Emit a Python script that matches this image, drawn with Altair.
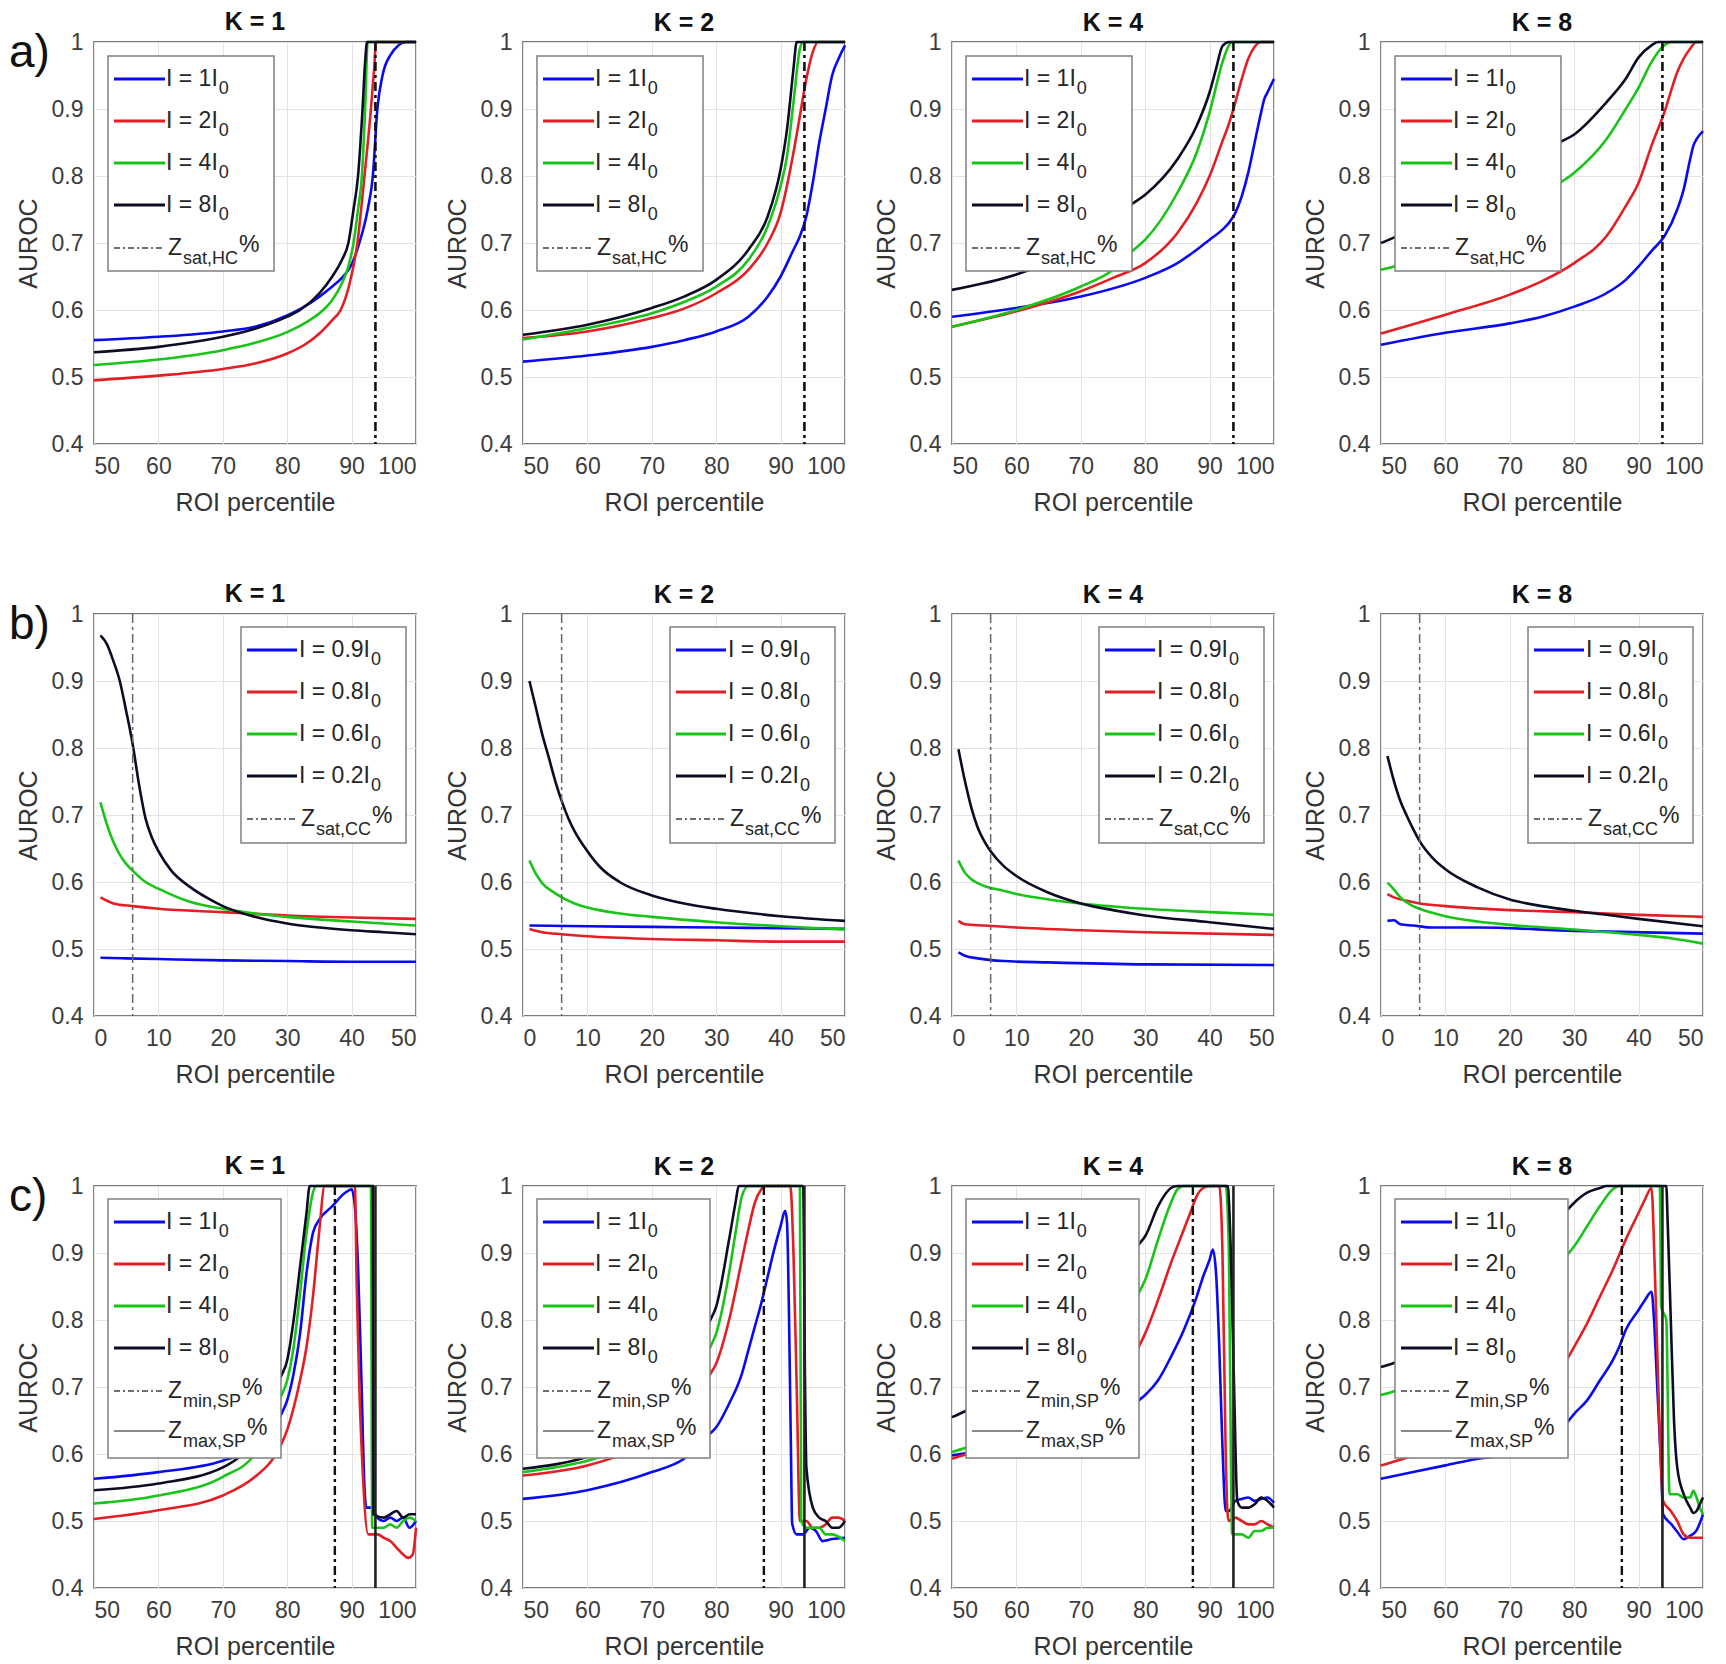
import altair as alt
import pandas as pd

# ---------------- data ----------------
Y_TICKS = [0.4, 0.5, 0.6, 0.7, 0.8, 0.9, 1.0]
X_TICKS_HI = [50, 60, 70, 80, 90, 100]
X_TICKS_LO = [0, 10, 20, 30, 40, 50]
K_TITLES = ["K = 1", "K = 2", "K = 4", "K = 8"]
ROW_TAGS = ["a)", "b)", "c)"]

ZSAT_HC = 93.7
ZSAT_CC = 6.0
ZMIN_SP = 87.4
ZMAX_SP = 93.7

# row a : I = 1I0, 2I0, 4I0, 8I0
A_K1_1 = [[50,.555],[60,.560],[70,.568],[75,.575],[80,.592],[83,.607],[85,.620],[87,.635],[88.5,.648],[90,.668],[91.2,.700],[92.5,.750],[93.3,.800],[94.0,.900],[94.8,.950],[96,.980],[98.5,1.0],[100,1.0]]
A_K1_2 = [[50,.495],[60,.502],[70,.512],[75,.520],[80,.535],[83,.550],[85,.565],[87,.585],[88.3,.600],[89.7,.640],[90.9,.700],[92,.800],[93,.900],[93.5,.960],[93.8,1.0],[100,1.0]]
A_K1_4 = [[50,.518],[60,.526],[70,.540],[75,.551],[80,.567],[83,.582],[85,.595],[87,.615],[88.5,.640],[89.5,.665],[90.3,.700],[91,.750],[91.6,.800],[92.1,.900],[92.5,1.0],[100,1.0]]
A_K1_8 = [[50,.537],[60,.545],[70,.560],[75,.572],[80,.590],[82,.600],[85,.625],[87,.650],[88.5,.675],[89.5,.700],[90.3,.750],[91,.800],[91.7,.900],[92.1,.970],[92.4,1.0],[100,1.0]]

A_K2_1 = [[50,.523],[60,.532],[70,.545],[75,.555],[80,.568],[85,.590],[88,.620],[90,.650],[92,.690],[93,.710],[94,.740],[95,.790],[96,.850],[97,.900],[98,.950],[99,.975],[100,.995]]
A_K2_2 = [[50,.558],[60,.568],[70,.588],[75,.602],[80,.625],[85,.660],[88,.700],[90,.745],[92,.835],[93,.890],[94,.945],[95,.985],[95.8,1.0],[100,1.0]]
A_K2_4 = [[50,.556],[60,.573],[70,.595],[75,.612],[80,.635],[85,.675],[88,.725],[90,.785],[91,.830],[92,.910],[93,.990],[93.5,1.0],[100,1.0]]
A_K2_8 = [[50,.563],[60,.578],[70,.603],[75,.620],[80,.645],[85,.690],[88,.740],[90,.810],[91,.870],[92,.960],[92.5,1.0],[100,1.0]]

A_K4_1 = [[50,.590],[60,.603],[70,.620],[80,.648],[85,.670],[88,.690],[90,.705],[92,.720],[93,.730],[94,.745],[95,.770],[96,.805],[97,.850],[98,.895],[98.5,.915],[99,.925],[100,.945]]
A_K4_2 = [[50,.575],[60,.598],[70,.628],[75,.648],[80,.670],[85,.715],[88,.760],[90,.800],[92,.852],[93,.878],[93.7,.900],[95,.945],[96,.975],[97,.993],[98,1.0],[100,1.0]]
A_K4_4 = [[50,.575],[60,.600],[70,.635],[75,.660],[78,.688],[80,.705],[85,.775],[88,.835],[90,.895],[92,.970],[93,.995],[93.5,1.0],[100,1.0]]
A_K4_8 = [[50,.630],[60,.653],[65,.671],[70,.697],[75,.731],[77.5,.755],[80,.772],[85,.825],[88,.875],[90,.925],[91,.960],[92,.994],[93,1.0],[100,1.0]]

A_K8_1 = [[50,.548],[60,.566],[70,.580],[75,.590],[80,.605],[85,.625],[88,.645],[90,.665],[92,.688],[94,.710],[96,.750],[97,.780],[98,.825],[98.5,.845],[99,.855],[100,.867]]
A_K8_2 = [[50,.565],[60,.593],[70,.623],[75,.643],[80,.670],[85,.710],[88,.755],[90,.790],[92,.845],[94,.895],[96,.955],[98,.990],[99,1.0],[100,1.0]]
A_K8_4 = [[50,.660],[52,.665],[60,.690],[70,.735],[75,.770],[77.4,.787],[80,.805],[85,.855],[88,.900],[90,.932],[92,.970],[94,.995],[95,1.0],[100,1.0]]
A_K8_8 = [[50,.700],[52,.708],[60,.745],[70,.800],[75,.828],[77.4,.848],[80,.862],[85,.910],[88,.945],[90,.977],[92,.995],[93,1.0],[100,1.0]]

# row b : I = 0.9I0, 0.8I0, 0.6I0, 0.2I0
B_K1_09 = [[1,.487],[5,.486],[10,.485],[20,.483],[30,.482],[40,.481],[50,.481]]
B_K1_08 = [[1,.577],[3,.568],[6,.564],[10,.560],[20,.555],[30,.550],[40,.547],[50,.545]]
B_K1_06 = [[1,.719],[2,.686],[3,.660],[4,.641],[5,.627],[6,.617],[8,.600],[10,.590],[15,.570],[20,.560],[25,.553],[30,.548],[40,.541],[50,.535]]
B_K1_02 = [[1,.968],[2,.955],[3,.930],[4,.900],[5,.855],[6,.806],[7,.745],[8,.695],[9,.666],[10,.646],[12,.617],[15,.592],[18,.574],[20,.564],[25,.548],[30,.538],[35,.532],[40,.528],[45,.525],[50,.522]]

B_K2_09 = [[1,.535],[10,.534],[20,.533],[30,.532],[40,.531],[50,.530]]
B_K2_08 = [[1,.530],[3,.525],[6,.522],[10,.519],[20,.515],[30,.513],[40,.511],[50,.511]]
B_K2_06 = [[1,.632],[2,.612],[3,.598],[5,.583],[8,.568],[10,.562],[15,.553],[20,.548],[30,.540],[40,.534],[50,.529]]
B_K2_02 = [[1,.900],[2,.860],[3,.820],[4,.786],[5,.751],[6,.721],[7,.696],[8,.676],[10,.646],[12,.622],[15,.600],[20,.580],[25,.568],[30,.560],[40,.549],[50,.542]]

B_K4_09 = [[1,.495],[2,.490],[4,.486],[8,.482],[15,.480],[30,.477],[50,.476]]
B_K4_08 = [[1,.542],[2,.537],[5,.535],[10,.532],[20,.528],[30,.525],[50,.521]]
B_K4_06 = [[1,.632],[2,.614],[3,.604],[5,.594],[8,.587],[10,.582],[15,.574],[20,.568],[30,.560],[40,.555],[50,.551]]
B_K4_02 = [[1,.798],[2,.751],[3,.711],[4,.681],[5,.661],[6,.646],[8,.624],[10,.609],[15,.584],[20,.568],[25,.558],[30,.550],[40,.540],[50,.530]]

B_K8_09 = [[1,.542],[2,.543],[3,.537],[5,.535],[8,.532],[15,.532],[30,.527],[50,.523]]
B_K8_08 = [[1,.582],[2,.577],[4,.572],[6,.568],[10,.564],[20,.558],[30,.555],[40,.551],[50,.548]]
B_K8_06 = [[1,.599],[2,.589],[3,.577],[5,.564],[8,.554],[10,.549],[15,.541],[20,.536],[30,.529],[40,.521],[45,.516],[50,.508]]
B_K8_02 = [[1,.788],[2,.751],[3,.721],[4,.699],[5,.679],[6,.661],[8,.636],[10,.619],[15,.592],[20,.574],[25,.564],[30,.557],[35,.551],[40,.545],[50,.534]]

# row c : I = 1I0, 2I0, 4I0, 8I0
C_K1_1 = [[50,.563],[60,.573],[70,.590],[75,.610],[78,.640],[79,.658],[80,.680],[81,.720],[82,.780],[83,.870],[84,.930],[85,.950],[87,.970],[89,.990],[90,.995],[90.5,.970],[91,.880],[91.5,.720],[92,.550],[92.3,.520],[93,.520],[94,.505],[95,.500],[96,.505],[97,.500],[98,.505],[99,.490],[100,.500]]
C_K1_2 = [[50,.503],[60,.516],[70,.538],[75,.566],[78,.596],[80,.636],[82,.710],[83,.760],[84,.835],[85,.935],[85.8,1.0],[90.5,1.0],[90.8,.850],[91.2,.700],[91.6,.600],[92.6,.480],[94,.480],[95,.475],[96,.470],[97,.460],[98,.450],[98.8,.445],[99.5,.450],[100,.490]]
C_K1_4 = [[50,.526],[60,.538],[70,.566],[75,.600],[79,.685],[80,.710],[81,.760],[82,.840],[83,.930],[84,.990],[84.5,1.0],[93,1.0],[93.2,.490],[94,.490],[95,.490],[96,.495],[97,.490],[98,.500],[99,.505],[100,.500]]
C_K1_8 = [[50,.546],[60,.556],[70,.580],[75,.625],[79,.715],[80,.740],[81,.800],[82,.880],[83,.960],[83.5,1.0],[93.3,1.0],[93.4,.510],[95,.505],[96,.510],[97,.515],[98,.505],[99,.510],[100,.510]]

C_K2_1 = [[50,.533],[60,.546],[70,.573],[75,.593],[79,.630],[80,.640],[82,.675],[84,.720],[85,.755],[86,.790],[87,.825],[88,.865],[89,.905],[90,.940],[90.7,.963],[91,.945],[91.3,.810],[91.6,.610],[91.8,.496],[92.5,.480],[93.5,.480],[94.5,.490],[95.5,.485],[96.5,.470],[98,.473],[100,.475]]
C_K2_2 = [[50,.568],[60,.583],[65,.598],[70,.620],[75,.660],[79,.718],[80,.735],[82,.800],[84,.890],[85,.935],[86,.975],[87,.995],[87.5,1.0],[91.5,1.0],[92,.900],[92.5,.700],[93,.500],[94,.500],[95,.490],[96,.490],[97,.495],[98,.505],[99,.505],[100,.500]]
C_K2_4 = [[50,.573],[60,.590],[65,.605],[70,.630],[75,.680],[79,.758],[80,.780],[82,.870],[83,.930],[84,.985],[85,1.0],[93,1.0],[93.2,.500],[94,.490],[95,.490],[96,.490],[97,.480],[98,.480],[100,.470]]
C_K2_8 = [[50,.578],[60,.596],[65,.615],[70,.645],[75,.705],[79,.798],[80,.820],[82,.920],[83,.975],[83.5,1.0],[93.5,1.0],[93.8,.700],[94,.580],[95,.520],[96,.505],[97,.500],[98,.490],[99,.490],[100,.500]]

C_K4_1 = [[50,.598],[60,.615],[70,.645],[75,.660],[79,.680],[80,.688],[82,.710],[84,.745],[86,.785],[88,.835],[89,.865],[90,.890],[90.5,.905],[91,.870],[91.5,.760],[92,.610],[92.5,.515],[93,.515],[94,.530],[95,.533],[96,.535],[97,.530],[98,.533],[99,.535],[100,.527]]
C_K4_2 = [[50,.593],[52.3,.600],[60,.630],[70,.680],[75,.715],[79,.760],[80,.780],[82,.830],[84,.885],[86,.935],[87,.960],[88,.985],[89,.997],[90,1.0],[91.5,1.0],[92,.900],[92.5,.600],[92.8,.510],[93,.500],[94,.505],[95,.500],[96,.495],[97,.495],[98,.500],[99,.495],[100,.490]]
C_K4_4 = [[50,.603],[52.3,.610],[60,.655],[70,.720],[75,.770],[79,.840],[80,.860],[82,.920],[84,.975],[85,.995],[86,1.0],[92.5,1.0],[93,.900],[93.3,.600],[93.5,.480],[94,.480],[95,.480],[96,.475],[97,.485],[98,.485],[99,.490],[100,.490]]
C_K4_8 = [[50,.655],[52.3,.665],[60,.705],[65,.740],[70,.785],[75,.850],[79,.913],[80,.925],[82,.970],[84,.997],[85,1.0],[92.8,1.0],[93.3,.900],[93.8,.700],[94.3,.530],[95,.520],[96,.520],[97,.525],[98,.535],[99,.530],[100,.520]]

C_K8_1 = [[50,.563],[60,.583],[65,.593],[70,.600],[75,.620],[79,.648],[80,.660],[82,.680],[84,.710],[86,.740],[87,.760],[88,.785],[90,.815],[91,.830],[92,.842],[92.4,.800],[92.8,.720],[93.2,.640],[93.5,.580],[93.8,.510],[95,.496],[96,.484],[97,.473],[98,.478],[99,.486],[100,.510]]
C_K8_2 = [[50,.583],[53.5,.593],[60,.615],[70,.660],[75,.695],[79,.743],[80,.760],[82,.795],[84,.835],[86,.875],[88,.920],[90,.960],[91,.980],[92,.997],[92.5,.880],[93,.720],[93.4,.600],[93.8,.530],[95,.515],[96,.500],[97,.480],[98,.475],[99,.475],[100,.475]]
C_K8_4 = [[50,.688],[51.8,.693],[60,.740],[70,.800],[75,.850],[79,.898],[80,.910],[82,.940],[84,.970],[86,.995],[87,1.0],[93.3,1.0],[93.5,.820],[94.3,.800],[94.8,.540],[96,.540],[97,.535],[98,.535],[98.5,.545],[99,.535],[99.5,.520],[100,.510]]
C_K8_8 = [[50,.730],[51.8,.735],[60,.790],[70,.870],[75,.920],[79,.965],[80,.975],[82,.990],[84,.997],[85,1.0],[94.3,1.0],[94.5,.950],[95,.800],[95.5,.650],[96,.580],[97,.540],[98,.520],[98.5,.512],[99,.515],[99.5,.525],[100,.535]]

LABELS_HI = ["I = 1I", "I = 2I", "I = 4I", "I = 8I"]
LABELS_LO = ["I = 0.9I", "I = 0.8I", "I = 0.6I", "I = 0.2I"]

# ---------------- styling ----------------
FONT = "Liberation Sans"
BLUE, RED, GREEN, BLACK = "#0a0af0", "#e31e24", "#17c417", "#0c0c24"
COLORS = [BLUE, RED, GREEN, BLACK]
W, H = 322, 402
MAIN_FS, SUB_FS = 23, 18

CHAR_W = {"I": .278, " ": .278, "=": .584, ".": .278, "Z": .611, "%": .889, "s": .5, "a": .556,
          "t": .278, ",": .278, "H": .722, "C": .722, "m": .833, "i": .222, "n": .556, "x": .5,
          "S": .667, "P": .667}


def tw(s, fs):
    return sum(CHAR_W.get(c, .556) for c in s) * fs


def legend_layers(entries, box, lx0, lx1, tx, ys):
    bx0, by0, bx1, by1 = box
    layers = [alt.Chart(pd.DataFrame([{"x0": bx0, "x1": bx1, "y0": by0, "y1": by1}]))
              .mark_rect(fill="white", stroke="#808080", strokeWidth=1.5)
              .encode(x=alt.X("x0:Q", scale=None), x2="x1:Q", y=alt.Y("y0:Q", scale=None), y2="y1:Q")]
    solid, dash, gray, main, sub = [], [], [], [], []
    for (kind, col, m, s, tail), y in zip(entries, ys):
        if kind == "line":
            solid.append({"px0": lx0, "px1": lx1, "py": y, "col": col})
            main.append({"px": tx, "py": y, "t": m})
            sub.append({"px": tx + tw(m, MAIN_FS) + 1, "py": y + 10, "t": s})
        else:
            (dash if kind == "dashdot" else gray).append({"px0": lx0, "px1": lx1, "py": y})
            zx = tx + 2
            main.append({"px": zx, "py": y, "t": m})
            sx = zx + tw(m, MAIN_FS) + 1
            sub.append({"px": sx, "py": y + 11, "t": s})
            main.append({"px": sx + tw(s, SUB_FS) + 1, "py": y - 3, "t": tail})
    enc_rule = dict(x=alt.X("px0:Q", scale=None), x2="px1:Q", y=alt.Y("py:Q", scale=None))
    layers.append(alt.Chart(pd.DataFrame(solid)).mark_rule(strokeWidth=3)
                  .encode(color=alt.Color("col:N", scale=None), **enc_rule))
    if dash:
        layers.append(alt.Chart(pd.DataFrame(dash))
                      .mark_rule(strokeWidth=2, color="#6e6e6e", strokeDash=[6, 3, 2, 3]).encode(**enc_rule))
    if gray:
        layers.append(alt.Chart(pd.DataFrame(gray)).mark_rule(strokeWidth=2, color="#8a8a8a").encode(**enc_rule))
    enc_t = dict(x=alt.X("px:Q", scale=None), y=alt.Y("py:Q", scale=None), text="t:N")
    layers.append(alt.Chart(pd.DataFrame(main))
                  .mark_text(align="left", baseline="middle", fontSize=MAIN_FS, font=FONT, color="#262626")
                  .encode(**enc_t))
    layers.append(alt.Chart(pd.DataFrame(sub))
                  .mark_text(align="left", baseline="middle", fontSize=SUB_FS, font=FONT, color="#262626")
                  .encode(**enc_t))
    return layers


def panel(series, xdom, xticks, zrules, legend, title, tag=None):
    xs = alt.Scale(domain=xdom, nice=False, zero=False)
    ys = alt.Scale(domain=[0.4, 1.0], nice=False, zero=False)
    xax = alt.Axis(values=xticks, format="d", title="ROI percentile")
    yax = alt.Axis(values=Y_TICKS, format=".1~f", title="AUROC")
    layers = []
    for pts, col in zip(series, COLORS):
        df = pd.DataFrame(pts, columns=["x", "y"])
        layers.append(alt.Chart(df).mark_line(color=col, strokeWidth=2.6, interpolate="monotone")
                      .encode(x=alt.X("x:Q", scale=xs, axis=xax), y=alt.Y("y:Q", scale=ys, axis=yax)))
    for xv, col, sw, dash in zrules:
        kw = dict(color=col, strokeWidth=sw)
        if dash:
            kw["strokeDash"] = dash
        layers.append(alt.Chart(pd.DataFrame({"x": [xv]})).mark_rule(**kw)
                      .encode(x=alt.X("x:Q", scale=xs, axis=xax)))
    layers += legend
    if tag:
        layers.append(alt.Chart(pd.DataFrame({"a": [0]}))
                      .mark_text(align="left", baseline="middle", fontSize=46, font=FONT, color="#111")
                      .encode(x=alt.value(-85), y=alt.value(11), text=alt.value(tag)))
    return alt.layer(*layers).properties(
        width=W, height=H,
        title=alt.Title(title, fontSize=25, fontWeight="bold", font=FONT, color="#111", offset=-5))


DD = [9, 4, 3, 4]

# row a
leg_a = [("line", c, l, "0", "") for c, l in zip(COLORS, LABELS_HI)] + [("dashdot", None, "Z", "sat,HC", "%")]
row_a_series = [[A_K1_1, A_K1_2, A_K1_4, A_K1_8], [A_K2_1, A_K2_2, A_K2_4, A_K2_8],
                [A_K4_1, A_K4_2, A_K4_4, A_K4_8], [A_K8_1, A_K8_2, A_K8_4, A_K8_8]]
row_a = [panel(s, [50, 100], X_TICKS_HI, [(ZSAT_HC, "#111", 2.6, DD)],
               legend_layers(leg_a, (14, 14, 180, 229), 20, 71, 72, [37, 79, 121, 163, 206]),
               K_TITLES[i], ROW_TAGS[0] if i == 0 else None)
         for i, s in enumerate(row_a_series)]

# row b
leg_b = [("line", c, l, "0", "") for c, l in zip(COLORS, LABELS_LO)] + [("dashdot", None, "Z", "sat,CC", "%")]
row_b_series = [[B_K1_09, B_K1_08, B_K1_06, B_K1_02], [B_K2_09, B_K2_08, B_K2_06, B_K2_02],
                [B_K4_09, B_K4_08, B_K4_06, B_K4_02], [B_K8_09, B_K8_08, B_K8_06, B_K8_02]]
row_b = [panel(s, [0, 50], X_TICKS_LO, [(ZSAT_CC, "#666", 1.5, DD)],
               legend_layers(leg_b, (147, 13, 312, 229), 153, 203, 205, [36, 78, 120, 162, 205]),
               K_TITLES[i], ROW_TAGS[1] if i == 0 else None)
         for i, s in enumerate(row_b_series)]

# row c
leg_c = [("line", c, l, "0", "") for c, l in zip(COLORS, LABELS_HI)] + \
        [("dashdot", None, "Z", "min,SP", "%"), ("gray", None, "Z", "max,SP", "%")]
row_c_series = [[C_K1_1, C_K1_2, C_K1_4, C_K1_8], [C_K2_1, C_K2_2, C_K2_4, C_K2_8],
                [C_K4_1, C_K4_2, C_K4_4, C_K4_8], [C_K8_1, C_K8_2, C_K8_4, C_K8_8]]
row_c = [panel(s, [50, 100], X_TICKS_HI, [(ZMIN_SP, "#111", 2.4, DD), (ZMAX_SP, "#222", 2.6, None)],
               legend_layers(leg_c, (14, 13, 187, 272), 20, 71, 72, [36, 78, 120, 162, 205, 245]),
               K_TITLES[i], ROW_TAGS[2] if i == 0 else None)
         for i, s in enumerate(row_c_series)]

chart = alt.vconcat(
    alt.hconcat(*row_a, spacing=107, bounds="flush"),
    alt.hconcat(*row_b, spacing=107, bounds="flush"),
    alt.hconcat(*row_c, spacing=107, bounds="flush"),
    spacing=65,
).properties(padding={"left": 0, "top": 1, "right": 0, "bottom": 0}).configure_view(
    stroke="#7a7a7a", strokeWidth=1.8
).configure_axis(
    labelFont=FONT, labelFontSize=23, labelColor="#3c3c3c", labelPadding=11,
    titleFont=FONT, titleFontSize=25, titleFontWeight="normal", titleColor="#333",
    gridColor="#e3e3e3", gridWidth=1, ticks=False, domain=False,
).configure_axisY(titlePadding=10).configure_axisX(titlePadding=12)

chart.save("out.html", embed_options={"renderer": "svg", "actions": False})
